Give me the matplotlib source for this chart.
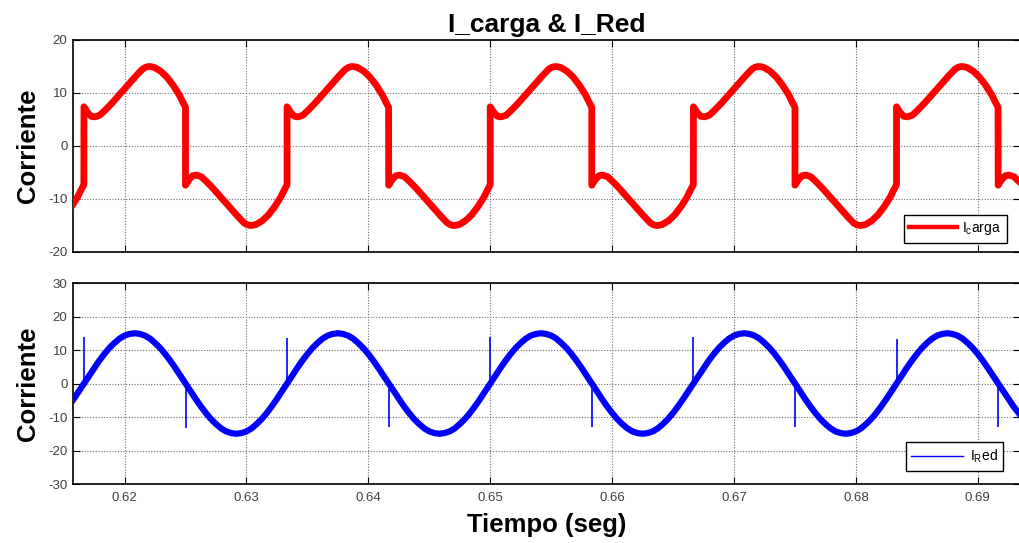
import numpy as np
import matplotlib
matplotlib.use("Agg")
import matplotlib.pyplot as plt
from matplotlib.lines import Line2D

plt.rcParams['font.family'] = ['Liberation Sans', 'DejaVu Sans']
plt.rcParams['mathtext.default'] = 'regular'

# ---------------- data ----------------
# switching instants (s): rising jumps / falling jumps of the load current
up_times = [0.61667, 0.63333, 0.65000, 0.66667, 0.68333]
down_times = [0.60833, 0.62500, 0.64167, 0.65833, 0.67500, 0.69167]

# load current, one positive half-cycle after a switching instant
carga_offset_ms = [0.0, 0.3, 0.6, 0.9, 1.3, 1.8, 2.3, 2.8, 3.3, 3.8, 4.3,
                   4.8, 5.05, 5.3, 5.55, 5.8, 6.3, 6.8, 7.3, 7.8, 8.1, 8.33]
carga_half = [7.4, 6.3, 5.6, 5.5, 5.8, 6.9, 8.1, 9.4, 10.7, 12.0, 13.3,
              14.5, 14.85, 15.0, 14.95, 14.8, 14.1, 13.0, 11.5, 9.7, 8.3, 7.3]

# grid current, one positive half-cycle after a zero crossing
red_offset_ms = [0.0, 0.42, 0.83, 1.25, 1.67, 2.08, 2.5, 2.92, 3.33, 3.75,
                 4.17, 4.58, 5.0, 5.42, 5.83, 6.25, 6.67, 7.08, 7.5, 7.92, 8.33]
red_half = [0.0, 2.3, 4.6, 6.8, 8.8, 10.6, 12.1, 13.4, 14.3, 14.8,
            15.0, 14.8, 14.3, 13.4, 12.1, 10.6, 8.8, 6.8, 4.6, 2.3, 0.0]

# spikes on the grid current at the switching instants
spike_up_tops = [13.8, 13.7, 13.9, 13.8, 13.4]
spike_down_bottoms = [-13.2, -13.0, -12.9, -13.0, -13.1]

xticks = [0.62, 0.63, 0.64, 0.65, 0.66, 0.67, 0.68, 0.69]
xtick_labels = ['0.62', '0.63', '0.64', '0.65', '0.66', '0.67', '0.68', '0.69']
yticks_top = [-20, -10, 0, 10, 20]
yticks_bottom = [-30, -20, -10, 0, 10, 20, 30]
xlim = (0.61577, 0.69346)

# ---------------- assemble the traces ----------------
events = sorted([(t, 1) for t in up_times] + [(t, -1) for t in down_times])
t_carga, i_carga, t_red, i_red = [], [], [], []
for ts, s in events:
    for off, v in zip(carga_offset_ms, carga_half):
        t_carga.append(ts + off / 1000.0)
        i_carga.append(s * v)
    for off, v in zip(red_offset_ms, red_half):
        t_red.append(ts + off / 1000.0)
        i_red.append(s * v)

spike_up_times = up_times
spike_down_times = down_times[1:]

# ---------------- figure ----------------
W, H = 1020, 543
fig = plt.figure(figsize=(W / 100, H / 100), dpi=100)
ax1 = fig.add_axes([73 / W, 1 - 252 / H, (1020 - 73) / W, 212 / H])
ax2 = fig.add_axes([73 / W, 1 - 484 / H, (1020 - 73) / W, 201 / H])

ax1.plot(t_carga, i_carga, color='#ff0000', lw=4.9, solid_joinstyle='round',
         solid_capstyle='round', zorder=3)
ax2.plot(t_red, i_red, color='#0000ff', lw=4.5, solid_joinstyle='round', zorder=3)
ax2.vlines(spike_up_times, 0.5, spike_up_tops, color='#0000ff', lw=1.2, zorder=3)
ax2.vlines(spike_down_times, -0.5, spike_down_bottoms, color='#0000ff', lw=1.2, zorder=3)

for ax, yt in ((ax1, yticks_top), (ax2, yticks_bottom)):
    ax.set_xlim(*xlim)
    ax.set_ylim(yt[0], yt[-1])
    ax.set_yticks(yt)
    ax.set_yticklabels([str(v) for v in yt])
    ax.set_xticks(xticks)
    ax.grid(True, color='#707070', lw=0.8, ls=(0, (1, 1.5)))
    ax.set_axisbelow(True)
    ax.tick_params(direction='in', length=5, width=0.8, top=True, right=True,
                   labelsize=9.5, labelcolor='#404040', pad=4)
    for sp in ax.spines.values():
        sp.set_linewidth(1.2)
    ax.set_ylabel('Corriente', fontsize=18.5, fontweight='bold', va='center')
    ax.yaxis.set_label_coords(-0.048, 0.5)

ax1.tick_params(labelbottom=False)
ax2.set_xticklabels(xtick_labels)
ax2.tick_params(axis='x', pad=6)

ax1.set_title('I_carga & I_Red', fontsize=19, fontweight='bold', pad=6)
ax2.set_xlabel('Tiempo (seg)', fontsize=18.5, fontweight='bold', labelpad=6)

h1 = [Line2D([], [], color='#ff0000', lw=3.2)]
leg1 = ax1.legend(h1, ['I$_{c}$arga'], loc='lower right',
                  bbox_to_anchor=(0.986, 0.044), borderaxespad=0,
                  fontsize=10, handlelength=3.4, handletextpad=0.4,
                  borderpad=0.4, fancybox=False, edgecolor='black',
                  framealpha=1)
leg1.get_frame().set_linewidth(1.0)
h2 = [Line2D([], [], color='#0000ff', lw=1.0)]
leg2 = ax2.legend(h2, ['I$_{R}$ed'], loc='lower right',
                  bbox_to_anchor=(0.9824, 0.065), borderaxespad=0,
                  fontsize=10, handlelength=3.7, handletextpad=0.5,
                  borderpad=0.4, fancybox=False, edgecolor='black',
                  framealpha=1)
leg2.get_frame().set_linewidth(1.0)

fig.savefig('out.png', dpi=100)
